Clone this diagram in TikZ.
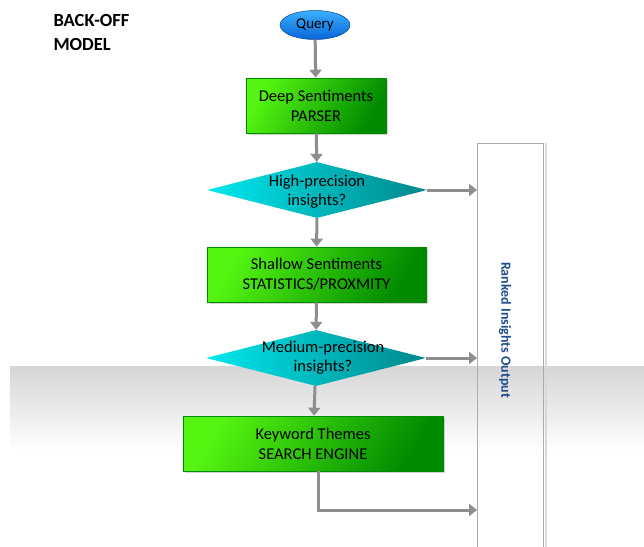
\documentclass[tikz,border=0pt]{standalone}
\usepackage{fontspec}
\setmainfont{Carlito}
\usetikzlibrary{shapes.geometric,arrows.meta,shadows}

\definecolor{brightgreen}{HTML}{55F511}
\definecolor{darkgreen}{HTML}{008A00}
\definecolor{lightcyan}{HTML}{00E8EE}
\definecolor{darkcyan}{HTML}{00888C}
\definecolor{skyblue}{HTML}{3AB0FF}
\definecolor{deepblue}{HTML}{0A64D8}
\definecolor{arrowgray}{HTML}{8E8E8E}
\definecolor{labelblue}{HTML}{1F4E8C}

\tikzset{
    greenbox/.style={draw=green!55!black, line width=0.6pt,
        left color=brightgreen, right color=darkgreen, shading angle=60,
        minimum height=55pt, align=center, font=\fontsize{16.5}{20}\selectfont,
        drop shadow={shadow xshift=2pt, shadow yshift=-2pt, opacity=0.35}},
    decision/.style={diamond, draw=none, left color=lightcyan, right color=darkcyan,
        minimum width=220pt, minimum height=56pt, inner sep=0pt},
    flow/.style={draw=arrowgray, line width=3pt, -{Triangle[length=8pt, width=12pt]}},
}

\begin{document}
\begin{tikzpicture}[x=1pt, y=-1pt]
    \useasboundingbox (0,0) rectangle (644,546);

    % bande grise en bas
    \shade[top color=gray!32, bottom color=white] (10,366) rectangle (644,452);

    % titre
    \node[anchor=north west, align=left, font=\bfseries\fontsize{18.5}{24}\selectfont] (title) at (50,11) {BACK-OFF\\MODEL};

    % noeuds du flux
    \node[ellipse, draw=deepblue!70!black, line width=0.5pt, top color=skyblue, bottom color=deepblue,
          minimum width=70pt, minimum height=29pt, inner sep=0pt, font=\fontsize{15}{18}\selectfont] (query) at (315,25) {Query};
    \node[greenbox, minimum width=140pt] (deep) at (316,105.5) {Deep Sentiments\\PARSER};
    \node[decision, label={[align=center, font=\fontsize{16.5}{19}\selectfont, yshift=-2pt]center:High-precision\\insights?}] (high) at (317,190) {};
    \node[greenbox, minimum width=219pt] (shallow) at (316.5,274.5) {Shallow Sentiments\\STATISTICS/PROXMITY};
    \node[decision, label={[align=center, font=\fontsize{16.5}{19}\selectfont, xshift=7pt]center:Medium-precision\\insights?}] (medium) at (316,358) {};
    \node[greenbox, minimum width=260pt] (keyword) at (313,443.5) {Keyword Themes\\SEARCH ENGINE};

    % boite de sortie
    \node[draw=gray!65, line width=1pt, minimum width=66pt, minimum height=420pt, anchor=north west] (ranked) at (477,143) {};
    \draw[gray!30, line width=2pt] ([xshift=2pt]ranked.north east) -- ([xshift=2pt]ranked.south east);
    \node[rotate=-90, text=labelblue, font=\bfseries\fontsize{14}{17}\selectfont] (rankedtxt) at (505,330) {Ranked Insights Output};

    % fleches
    \draw[flow] (query) -- (deep);
    \draw[flow] (deep) -- (high);
    \draw[flow] (high) -- (shallow);
    \draw[flow] (shallow) -- (medium);
    \draw[flow] (medium) -- (keyword);
    \draw[flow] (high.east) -- (high.east -| ranked.west);
    \draw[flow] (medium.east) -- (medium.east -| ranked.west);
    \coordinate (corner) at (318,510);
    \draw[flow] (keyword.south -| corner) -- (corner) -- (corner -| ranked.west);
\end{tikzpicture}
\end{document}
